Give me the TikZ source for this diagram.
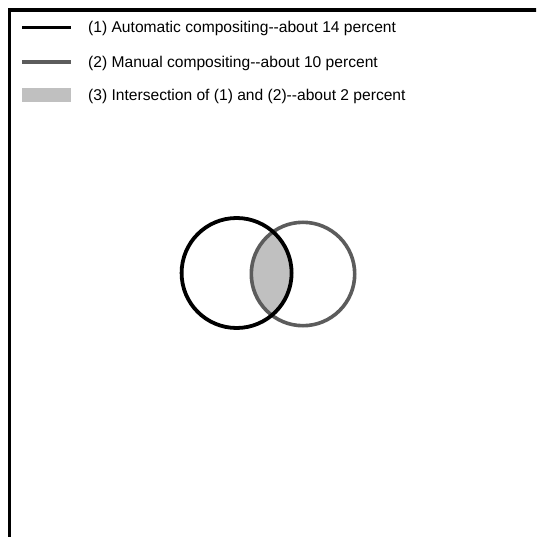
\documentclass[tikz,border=0pt]{standalone}
\usepackage{fontspec}
\setmainfont{Liberation Sans}[Ligatures=NoCommon]
\begin{document}
\begin{tikzpicture}[x=1pt,y=-1pt,
  frame/.style={line width=3.6pt,black},
  autoline/.style={line width=3.6pt,black},
  manline/.style={line width=3.6pt,gray1},
  interfill/.style={fill=gray2},
  legtext/.style={anchor=base west,inner sep=0pt,font=\fontsize{15.6}{18}\selectfont}]
\definecolor{gray1}{HTML}{5C5C5C}
\definecolor{gray2}{HTML}{C0C0C0}
\useasboundingbox (0,0) rectangle (536,537);
\clip (0,0) rectangle (536,537);
% frame
\coordinate (fbl) at (9.3,545);
\coordinate (ftl) at (9.3,10.2);
\coordinate (ftr) at (545,10.2);
\draw[frame] (fbl) -- (ftl) -- (ftr);
% legend
\coordinate (l1a) at (22,27.5); \coordinate (l1b) at (71,27.5);
\draw[autoline] (l1a) -- (l1b);
\node[legtext] (t1) at (88,33) {(1) Automatic compositing-{}-about 14 percent};
\coordinate (l2a) at (22,62); \coordinate (l2b) at (71,62);
\draw[manline] (l2a) -- (l2b);
\node[legtext] (t2) at (88,67.5) {(2) Manual compositing-{}-about 10 percent};
\coordinate (r3a) at (22,88.5); \coordinate (r3b) at (71,102);
\fill[interfill] (r3a) rectangle (r3b);
\node[legtext] (t3) at (88,101) {(3) Intersection of (1) and (2)-{}-about 2 percent};
% venn
\coordinate (c1) at (236.6,273);
\coordinate (c2) at (303,274);
\begin{scope}
  \clip (c1) circle[radius=55];
  \fill[interfill] (c2) circle[radius=51.7];
\end{scope}
\draw[manline,line width=3.6pt] (c2) circle[radius=51.7];
\draw[autoline,line width=3.8pt] (c1) circle[radius=55];
\end{tikzpicture}
\end{document}
